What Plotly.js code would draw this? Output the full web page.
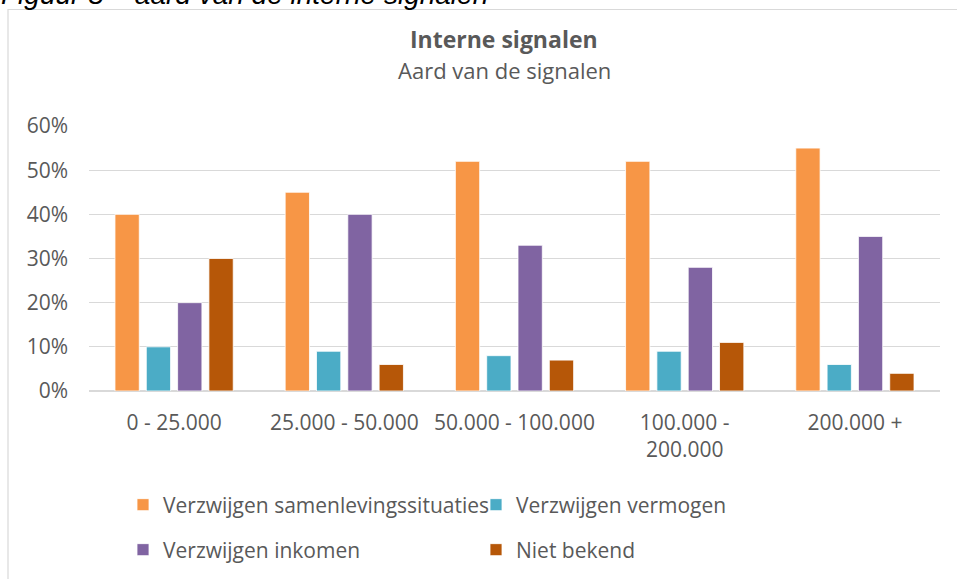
<!DOCTYPE html>
<html>
<head>
<meta charset="utf-8">
<script src="https://cdn.plot.ly/plotly-3.0.1.min.js"></script>
<style>
  html, body { margin: 0; padding: 0; background: #fff; }
  #chart { width: 957px; height: 579px; }
</style>
</head>
<body>
<div id="chart"></div>
<script>
// ---- data ----
const categories = ["0 - 25.000", "25.000 - 50.000", "50.000 - 100.000", "100.000 -<br>200.000", "200.000 +"];
const seriesNames = ["Verzwijgen samenlevingssituaties", "Verzwijgen vermogen", "Verzwijgen inkomen", "Niet bekend"];
const samenleving = [40, 45, 52, 52, 55];
const vermogen = [10, 9, 8, 9, 6];
const inkomen = [20, 40, 33, 28, 35];
const nietBekend = [30, 6, 7, 11, 4];
const yTicks = [0, 10, 20, 30, 40, 50, 60];
const chartTitle = "Interne signalen";
const chartSubtitle = "Aard van de signalen";
const caption = "Figuur 8 – aard van de interne signalen";

// ---- style ----
const colors = ["#F79646", "#4BACC6", "#8064A2", "#B65708"];
const FONT = "Open Sans, sans-serif";
const TXT = "#595959";
const W = 957, H = 579;
const M = { l: 89, r: 17, t: 126, b: 188, autoexpand: false };
const PW = W - M.l - M.r, PH = H - M.t - M.b;
const px = x => (x - M.l) / PW;
const py = y => 1 - (y - M.t) / PH;

const seriesValues = [samenleving, vermogen, inkomen, nietBekend];
const traces = seriesValues.map((vals, i) => ({
  type: "bar",
  name: seriesNames[i],
  x: categories,
  y: vals,
  marker: { color: colors[i], line: { color: "#ffffff", width: 0.8 } },
  legend: i < 2 ? "legend" : "legend2",
  hoverinfo: "x+y+name"
}));

const legendCommon = {
  orientation: "h",
  xanchor: "left",
  yanchor: "middle",
  font: { family: FONT, size: 21, color: TXT },
  bgcolor: "rgba(0,0,0,0)",
  itemwidth: 30,
  entrywidth: 308,
  entrywidthmode: "pixels",
  traceorder: "normal"
};

const layout = {
  width: W, height: H,
  margin: M,
  paper_bgcolor: "#ffffff",
  plot_bgcolor: "#ffffff",
  font: { family: FONT, size: 21, color: TXT },
  barmode: "group",
  bargap: 0.264,
  bargroupgap: 0.224,
  showlegend: true,
  legend: Object.assign({}, legendCommon, { x: px(123), y: py(505) }),
  legend2: Object.assign({}, legendCommon, { x: px(123), y: py(550) }),
  xaxis: {
    type: "category",
    showgrid: false,
    showline: false,
    zeroline: false,
    ticks: "",
    ticklabelstandoff: 17,
    tickfont: { family: FONT, size: 21, color: TXT },
    fixedrange: true
  },
  yaxis: {
    range: [0, 60],
    tickvals: yTicks,
    ticktext: yTicks.map(v => v + "%"),
    showgrid: true,
    gridcolor: "#d9d9d9",
    gridwidth: 1,
    zeroline: true,
    zerolinecolor: "#d9d9d9",
    zerolinewidth: 1.5,
    showline: false,
    ticks: "",
    ticklabelstandoff: 20,
    tickfont: { family: FONT, size: 21, color: TXT },
    fixedrange: true
  },
  shapes: [
    {
      type: "rect", xref: "paper", yref: "paper",
      x0: px(8), x1: px(1010), y0: py(9.5), y1: py(640),
      line: { color: "#d9d9d9", width: 1.2 },
      fillcolor: "rgba(0,0,0,0)",
      layer: "below"
    }
  ],
  annotations: [
    {
      text: "<b>" + chartTitle + "</b>",
      xref: "paper", yref: "paper", x: px(504), y: py(39),
      xanchor: "center", yanchor: "middle", showarrow: false,
      font: { family: FONT, size: 23, color: TXT }
    },
    {
      text: chartSubtitle,
      xref: "paper", yref: "paper", x: px(504), y: py(70),
      xanchor: "center", yanchor: "middle", showarrow: false,
      font: { family: FONT, size: 22, color: TXT }
    },
    {
      text: "<i>" + caption + "</i>",
      xref: "paper", yref: "paper", x: px(-1), y: py(-6),
      xanchor: "left", yanchor: "middle", showarrow: false,
      font: { family: "Liberation Sans, Arial, sans-serif", size: 28, color: "#000000" }
    }
  ]
};

Plotly.newPlot("chart", traces, layout, { displayModeBar: false, staticPlot: true });
</script>
</body>
</html>
